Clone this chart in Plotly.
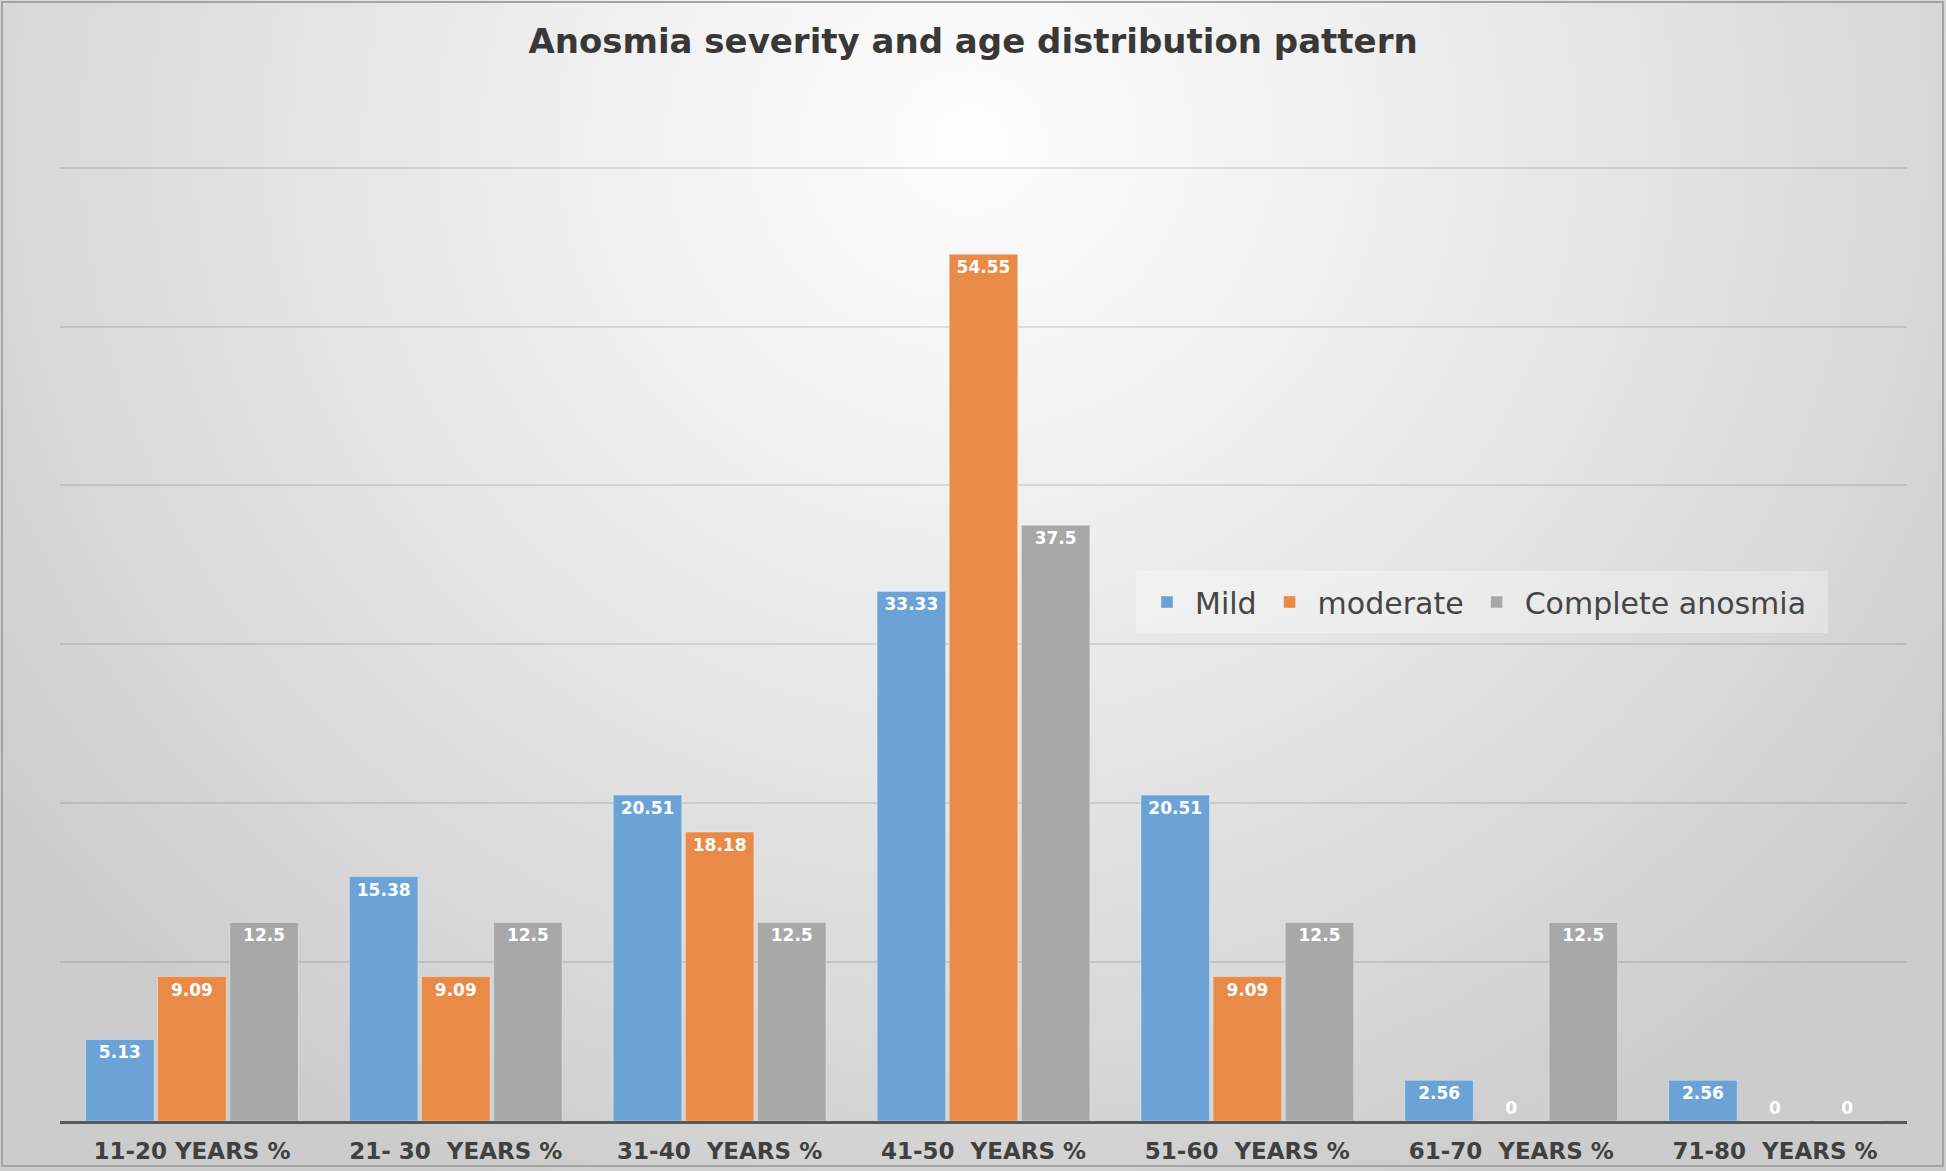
import base64
import struct
import zlib

import numpy as np
import plotly.graph_objects as go

categories = ["11-20 YEARS %", "21- 30  YEARS %", "31-40  YEARS %", "41-50  YEARS %",
              "51-60  YEARS %", "61-70  YEARS %", "71-80  YEARS %"]
mild = [5.13, 15.38, 20.51, 33.33, 20.51, 2.56, 2.56]
moderate = [9.09, 9.09, 18.18, 54.55, 9.09, 0, 0]
complete = [12.5, 12.5, 12.5, 37.5, 12.5, 12.5, 0]

series = [("Mild", mild, "#6BA3D7"),
          ("moderate", moderate, "#EA8A48"),
          ("Complete anosmia", complete, "#A8A8A8")]

W, H = 1946, 1171
BASE_PX, TOP60_PX = 1121, 167.6
ML, MR, MT, MB = 60, 39, 155, H - BASE_PX
PW, PH = W - ML - MR, H - MT - MB
YMAX = 60 * PH / (BASE_PX - TOP60_PX)


def px2x(px):
    return (px - ML) / PW


def px2y(py):
    return (H - MB - py) / PH


def gradient_png(w, h, scale):
    """Radial light-grey background glow as a PNG data URI."""
    ys, xs = np.mgrid[0:h, 0:w].astype(float)
    xs = xs * scale
    ys = ys * scale
    d = np.sqrt(((xs - 970) / 1050) ** 2 + ((ys - 140) / 1000) ** 2)
    b = 253 - 41 * np.clip(d, 0, 1.15) ** 1.15
    img = np.clip(b, 0, 255).astype(np.uint8)
    raw = b"".join(b"\x00" + img[r].tobytes() for r in range(h))

    def chunk(tag, data):
        c = tag + data
        return struct.pack(">I", len(data)) + c + struct.pack(">I", zlib.crc32(c) & 0xffffffff)

    png = (b"\x89PNG\r\n\x1a\n"
           + chunk(b"IHDR", struct.pack(">IIBBBBB", w, h, 8, 0, 0, 0, 0))
           + chunk(b"IDAT", zlib.compress(raw, 9))
           + chunk(b"IEND", b""))
    return "data:image/png;base64," + base64.b64encode(png).decode()


fig = go.Figure()
for name, vals, col in series:
    fig.add_trace(go.Bar(
        name=name, x=categories, y=vals,
        marker=dict(color=col, line=dict(width=1, color="rgba(255,255,255,0.35)")),
        text=[f"{v:g}" for v in vals],
        textposition=["outside" if v == 0 else "inside" for v in vals],
        insidetextanchor="end",
        textangle=0,
        constraintext="none",
        textfont=dict(family="DejaVu Sans", size=17, color="white", weight="bold"),
        cliponaxis=False,
    ))

SC = 2
fig.add_layout_image(dict(source=gradient_png(W // SC + 1, H // SC + 1, SC),
                          xref="paper", yref="paper", x=px2x(0), y=px2y(0),
                          sizex=W / PW, sizey=H / PH, sizing="stretch",
                          xanchor="left", yanchor="top", layer="below"))

shapes = [
    # legend box
    dict(type="rect", xref="paper", yref="paper", layer="below",
         x0=px2x(1136), x1=px2x(1828), y0=px2y(633), y1=px2y(571),
         fillcolor="rgba(255,255,255,0.3)", line=dict(width=0)),
    # frame
    dict(type="rect", xref="paper", yref="paper", layer="above",
         x0=px2x(2), x1=px2x(W - 3), y0=px2y(H - 5), y1=px2y(2),
         line=dict(color="#a4a4a4", width=2), fillcolor="rgba(0,0,0,0)"),
]

fig.update_layout(
    width=W, height=H,
    margin=dict(l=ML, r=MR, t=MT, b=MB, autoexpand=False),
    paper_bgcolor="#d4d4d4",
    plot_bgcolor="rgba(0,0,0,0)",
    barmode="group", bargap=0.18, bargroupgap=0.05,
    title=dict(text="Anosmia severity and age distribution pattern",
               x=0.5, xanchor="center", xref="container",
               y=1 - 41 / H, yanchor="middle", yref="container",
               font=dict(family="DejaVu Sans", size=34, color="#383838", weight="bold")),
    legend=dict(orientation="h", x=px2x(1139), y=px2y(602), xanchor="left", yanchor="middle",
                bgcolor="rgba(0,0,0,0)", borderwidth=0,
                font=dict(family="DejaVu Sans", size=30, color="#454545"),
                itemwidth=46),
    shapes=shapes,
    showlegend=True,
)
fig.update_xaxes(showline=True, linecolor="#585858", linewidth=3, showgrid=False,
                 automargin=False,
                 ticks="outside", ticklen=7, tickcolor="rgba(0,0,0,0)",
                 tickfont=dict(family="DejaVu Sans", size=23, color="#404040", weight="bold"))
fig.update_yaxes(range=[0, YMAX], tickvals=[10, 20, 30, 40, 50, 60], showticklabels=False,
                 automargin=False,
                 showgrid=True, gridcolor="rgba(0,0,0,0.1)", gridwidth=2, zeroline=False)

fig.write_html("out.html", config={"displayModeBar": False},
               post_script="document.body.style.margin='0';")
